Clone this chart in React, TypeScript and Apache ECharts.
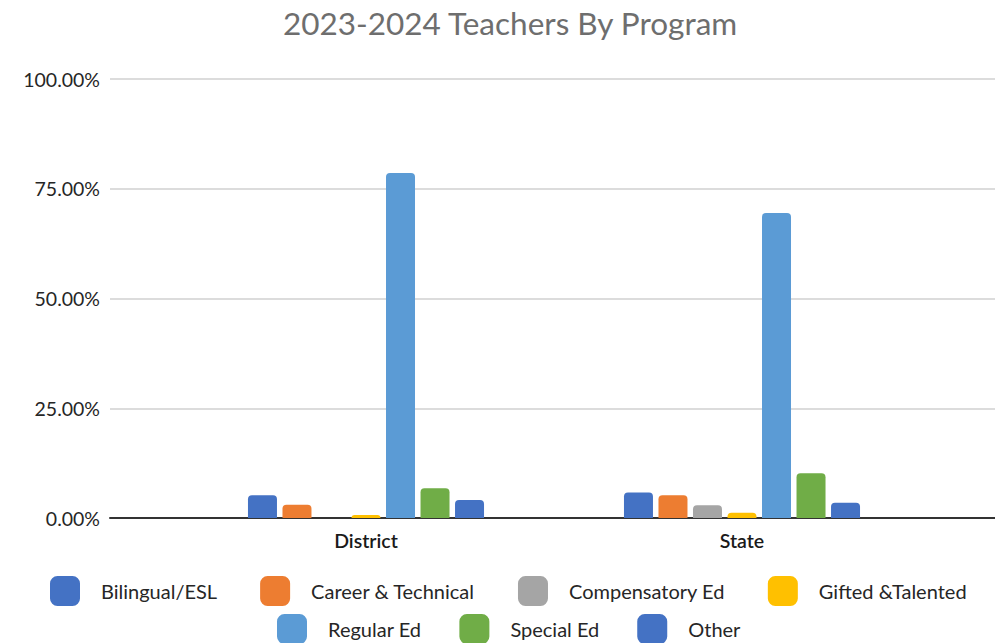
import React, { useEffect, useRef } from "react";
import * as echarts from "echarts";

const categories = ["District", "State"];
const seriesNames = [
  "Bilingual/ESL",
  "Career & Technical",
  "Compensatory Ed",
  "Gifted &Talented",
  "Regular Ed",
  "Special Ed",
  "Other",
];
const bilingual = [5.2, 5.8];
const career = [3.0, 5.2];
const compensatory = [0.0, 2.9];
const gifted = [0.7, 1.2];
const regular = [78.6, 69.5];
const special = [6.8, 10.2];
const other = [4.1, 3.5];
const colors = ["#4472C4", "#ED7D31", "#A5A5A5", "#FFC000", "#5B9BD5", "#70AD47", "#4472C4"];
const yTicks = [0, 25, 50, 75, 100];

const FONT = "Lato, 'Open Sans', sans-serif";

export default function App() {
  const ref = useRef<HTMLDivElement>(null);
  useEffect(() => {
    if (!ref.current) return;
    const chart = echarts.init(ref.current, null, { renderer: "svg" });
    const values = [bilingual, career, compensatory, gifted, regular, special, other];
    const legendText = { fontFamily: FONT, fontSize: 20, color: "#262626", padding: [0, 0, 0, 16] };
    chart.setOption({
      animation: false,
      title: {
        text: "2023-2024 Teachers By Program",
        left: 278,
        top: 2,
        textStyle: { fontFamily: FONT, fontSize: 31.5, fontWeight: "normal", color: "#6e6e6e" },
      },
      legend: [
        {
          data: seriesNames.slice(0, 4),
          left: 45,
          top: 571,
          itemWidth: 30,
          itemHeight: 30,
          itemGap: 43,
          icon: "roundRect",
          textStyle: legendText,
        },
        {
          data: seriesNames.slice(4),
          left: 272,
          top: 609,
          itemWidth: 30,
          itemHeight: 30,
          itemGap: 38,
          icon: "roundRect",
          textStyle: legendText,
        },
      ],
      grid: [
        { left: 110, right: 0, top: 79, bottom: 125, containLabel: false },
        { left: 178, width: 752, top: 79, bottom: 125, containLabel: false },
      ],
      xAxis: [
        {
          type: "category",
          gridIndex: 0,
          data: [""],
          axisLine: { show: true, lineStyle: { color: "#333", width: 2 } },
          axisTick: { show: false },
          axisLabel: { show: false },
        },
        {
          type: "category",
          gridIndex: 1,
          data: categories,
          axisLine: { show: false },
          axisTick: { show: false },
          axisLabel: { fontFamily: FONT, fontSize: 19.5, color: "#1a1a1a", fontWeight: 600, margin: 12 },
        },
      ],
      yAxis: [
        {
          type: "value",
          gridIndex: 0,
          min: yTicks[0],
          max: yTicks[yTicks.length - 1],
          interval: 25,
          axisLine: { show: false },
          axisTick: { show: false },
          axisLabel: {
            fontFamily: FONT,
            fontSize: 19.5,
            color: "#262626",
            margin: 10,
            formatter: (v: number) => v.toFixed(2) + "%",
          },
          splitLine: { lineStyle: { color: "#d0d0d0", width: 1.5 } },
        },
        {
          type: "value",
          gridIndex: 1,
          min: 0,
          max: 100,
          interval: 25,
          show: false,
          splitLine: { show: false },
        },
      ],
      series: seriesNames.map((name, i) => ({
        name,
        type: "bar",
        xAxisIndex: 1,
        yAxisIndex: 1,
        data: values[i],
        barWidth: 29,
        barGap: "19%",
        itemStyle: { color: colors[i], borderRadius: [4, 4, 0, 0] },
      })),
    });
    return () => chart.dispose();
  }, []);
  return <div ref={ref} style={{ width: 995, height: 643, position: "absolute", left: 0, top: 0 }} />;
}
